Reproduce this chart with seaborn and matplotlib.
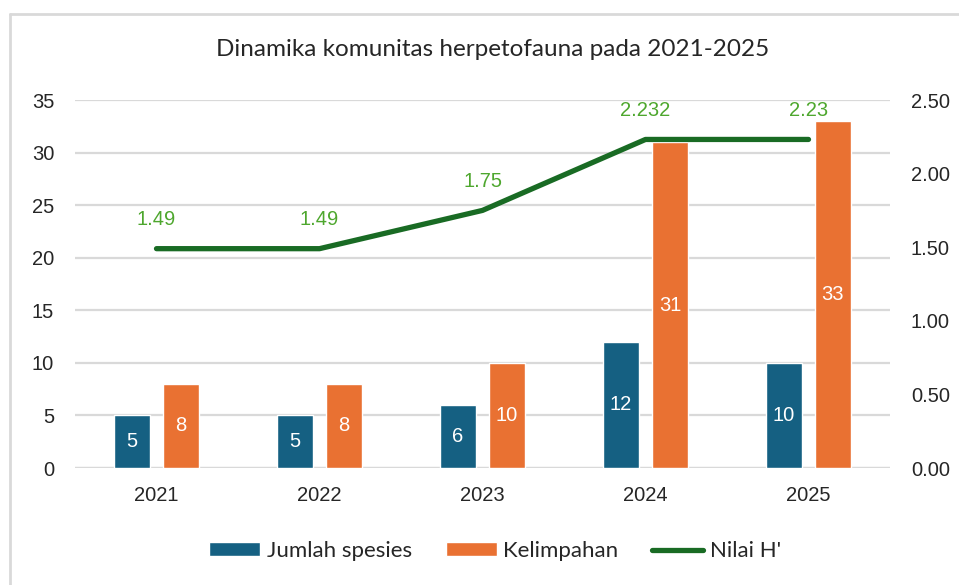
import numpy as np
import pandas as pd
import matplotlib
matplotlib.use('Agg')
import matplotlib.pyplot as plt
from matplotlib.lines import Line2D
import seaborn as sns

# data
years = ['2021', '2022', '2023', '2024', '2025']
jumlah_spesies = [5, 5, 6, 12, 10]
kelimpahan = [8, 8, 10, 31, 33]
nilai_h = [1.49, 1.49, 1.75, 2.232, 2.232]
nilai_h_labels = ['1.49', '1.49', '1.75', '2.232', '2.23']

blue = '#156082'
orange = '#E97132'
green = '#196B24'
green_lbl = '#4EA72E'
grid_col = '#D9D9D9'
txt_col = '#262626'

sns.set_theme(style='white')
plt.rcParams['font.family'] = ['Liberation Sans', 'DejaVu Sans']

df = pd.DataFrame({
    'Tahun': years * 2,
    'Nilai': jumlah_spesies + kelimpahan,
    'Seri': ['Jumlah spesies'] * len(years) + ['Kelimpahan'] * len(years),
})

fig = plt.figure(figsize=(9.59, 5.85), dpi=100)
ax = fig.add_axes([75 / 959, 117 / 585, 815 / 959, 368 / 585])

sns.barplot(data=df, x='Tahun', y='Nilai', hue='Seri',
            palette=[blue, orange], width=0.6, gap=0.25,
            saturation=1, ax=ax, legend=False, zorder=2)

ax.set_ylim(0, 35)
ax.set_yticks(range(0, 36, 5))
ax.set_xlim(-0.5, len(years) - 0.5)
ax.yaxis.grid(True, color=grid_col, linewidth=1.6, zorder=0)
ax.set_axisbelow(True)
ax.set_xlabel('')
ax.set_ylabel('')
for s in ax.spines.values():
    s.set_visible(False)
ax.axhline(0, color=grid_col, linewidth=1.6, zorder=1)
ax.tick_params(axis='both', length=0, labelsize=14.5, colors=txt_col)
ax.tick_params(axis='x', pad=13)
ax.tick_params(axis='y', pad=15)

# value labels inside bars
for cont in ax.containers:
    ax.bar_label(cont, label_type='center', color='white', fontsize=14.5)

# line on secondary axis
ax2 = ax.twinx()
xs = np.arange(len(years))
sns.lineplot(x=xs, y=nilai_h, color=green, linewidth=3.8, ax=ax2,
             solid_capstyle='round')
ax2.set_ylim(0, 2.5)
ax2.set_yticks(np.arange(0, 2.51, 0.5))
ax2.set_yticklabels([f'{v:.2f}' for v in np.arange(0, 2.51, 0.5)])
ax2.tick_params(axis='y', length=0, labelsize=14.5, colors=txt_col, pad=15)
for s in ax2.spines.values():
    s.set_visible(False)
ax2.grid(False)
for x, y, lbl in zip(xs, nilai_h, nilai_h_labels):
    ax2.annotate(lbl, (x, y), xytext=(0, 21), textcoords='offset points',
                 ha='center', va='center', color=green_lbl, fontsize=14.5)

fig.text(493 / 959, 535 / 585, 'Dinamika komunitas herpetofauna pada 2021-2025',
         ha='center', va='center', fontsize=17.5, color=txt_col,
         family=['Lato', 'DejaVu Sans'])

handles = [
    plt.Rectangle((0, 0), 1, 1, facecolor=blue),
    plt.Rectangle((0, 0), 1, 1, facecolor=orange),
    Line2D([0], [0], color=green, linewidth=3.8, solid_capstyle='round'),
]
fig.legend(handles, ['Jumlah spesies', 'Kelimpahan', "Nilai H'"],
           loc='center', bbox_to_anchor=(495 / 959, 34 / 585), ncol=3,
           frameon=False, handlelength=2.3, handleheight=0.6,
           columnspacing=1.5, handletextpad=0.3,
           prop={'family': ['Lato', 'DejaVu Sans'], 'size': 16},
           labelcolor=txt_col)

# chart frame
fig.add_artist(Line2D([10 / 959, 10 / 959], [0, 1 - 14 / 585],
                      transform=fig.transFigure, color=grid_col, linewidth=2))
fig.add_artist(Line2D([10 / 959, 1], [1 - 14 / 585, 1 - 14 / 585],
                      transform=fig.transFigure, color=grid_col, linewidth=2))

fig.savefig('out.png', dpi=100, facecolor='white')
